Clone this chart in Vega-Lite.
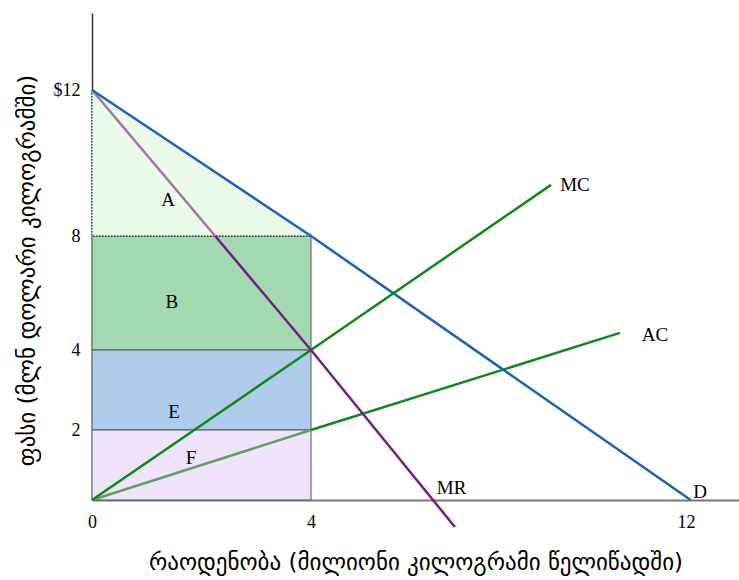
{
  "$schema": "https://vega.github.io/schema/vega-lite/v6.json",
  "width": 647,
  "height": 487,
  "autosize": {"type": "none"},
  "padding": {"left": 92, "top": 13, "right": 0, "bottom": 80},
  "background": "white",
  "config": {"view": {"stroke": null}, "font": "Liberation Serif"},
  "resolve": {"scale": {"color": "independent"}},
  "datasets": {
    "regions": [
      {"region": "B", "q0": 0, "q1": 4, "p0": 4, "p1": 8},
      {"region": "E", "q0": 0, "q1": 4, "p0": 2, "p1": 4},
      {"region": "F", "q0": 0, "q1": 4, "p0": 0, "p1": 2}
    ],
    "triangle": [
      {"q": 0, "top": 12, "bottom": 8},
      {"q": 4, "top": 8, "bottom": 8}
    ],
    "dotted": [
      {"q": 0, "p": 12, "o": 1},
      {"q": 0, "p": 8, "o": 2},
      {"q": 4, "p": 8, "o": 3}
    ],
    "curves": [
      {"seg": "AC lower", "q": 0, "p": 0, "o": 1},
      {"seg": "AC lower", "q": 4, "p": 2, "o": 2},
      {"seg": "AC", "q": 4, "p": 2, "o": 1},
      {"seg": "AC", "q": 10.59, "p": 4.6, "o": 2},
      {"seg": "MC", "q": 0, "p": 0, "o": 1},
      {"seg": "MC", "q": 4, "p": 4, "o": 2},
      {"seg": "MC", "q": 9.12, "p": 9.4, "o": 3},
      {"seg": "MR upper", "q": 0, "p": 12, "o": 1},
      {"seg": "MR upper", "q": 2.25, "p": 8, "o": 2},
      {"seg": "MR", "q": 2.25, "p": 8, "o": 1},
      {"seg": "MR", "q": 4, "p": 4, "o": 2},
      {"seg": "MR", "q": 7.07, "p": -0.77, "o": 3},
      {"seg": "D", "q": 0, "p": 12, "o": 1},
      {"seg": "D", "q": 4, "p": 8, "o": 2},
      {"seg": "D", "q": 12.1, "p": 0, "o": 3}
    ],
    "labels": [
      {"text": "A", "q": 1.39, "p": 8.99},
      {"text": "B", "q": 1.46, "p": 5.68},
      {"text": "E", "q": 1.5, "p": 2.45},
      {"text": "F", "q": 1.81, "p": 1.2},
      {"text": "MC", "q": 9.63, "p": 9.4},
      {"text": "AC", "q": 11.34, "p": 4.53},
      {"text": "MR", "q": 7.0, "p": 0.34},
      {"text": "D", "q": 12.3, "p": 0.23}
    ]
  },
  "layer": [
    {
      "data": {"name": "regions"},
      "mark": {"type": "rect", "stroke": "#555555", "strokeWidth": 1},
      "encoding": {
        "x": {
          "field": "q0", "type": "quantitative",
          "scale": {"domain": [0, 4, 12, 13.13], "range": [0, 219, 594, 647], "nice": false, "zero": false},
          "axis": {
            "values": [0, 4, 12], "grid": false, "ticks": false, "labelPadding": 13, "labelFlush": false,
            "labelFontSize": 18, "labelFont": "Liberation Serif", "labelColor": "#000",
            "domainColor": "#777777", "domainWidth": 2,
            "title": "რაოდენობა (მილიონი კილოგრამი წელიწადში)",
            "titleFont": "DejaVu Sans", "titleFontSize": 23, "titleFontWeight": "normal",
            "titleColor": "#000", "titlePadding": 20
          }
        },
        "x2": {"field": "q1"},
        "y": {
          "field": "p0", "type": "quantitative",
          "scale": {"domain": [0, 2, 4, 8, 12, 14.1], "range": [487, 417, 337, 223, 77, 0], "nice": false, "zero": false},
          "axis": {
            "values": [2, 4, 8, 12], "grid": false, "ticks": false, "labelPadding": 12, "labelFlush": false,
            "labelExpr": "datum.value == 12 ? '$12' : datum.label",
            "labelFontSize": 18, "labelFont": "Liberation Serif", "labelColor": "#000",
            "domainColor": "#333333", "domainWidth": 1.5,
            "title": "ფასი (მლნ დოლარი კილოგრამში)",
            "titleFont": "DejaVu Sans", "titleFontSize": 23, "titleFontWeight": "normal",
            "titleColor": "#000", "titlePadding": 14, "titleY": 257
          }
        },
        "y2": {"field": "p1"},
        "color": {
          "field": "region", "type": "nominal", "legend": null,
          "scale": {"domain": ["B", "E", "F"], "range": ["#a3d9b1", "#aecbeb", "#efe3fb"]}
        }
      }
    },
    {
      "data": {"name": "triangle"},
      "mark": {"type": "area", "color": "#eafbea"},
      "encoding": {
        "x": {"field": "q", "type": "quantitative"},
        "y": {"field": "top", "type": "quantitative"},
        "y2": {"field": "bottom"}
      }
    },
    {
      "data": {"name": "dotted"},
      "mark": {"type": "line", "color": "#444444", "strokeWidth": 1.5, "strokeDash": [1.5, 1.5]},
      "encoding": {
        "x": {"field": "q", "type": "quantitative"},
        "y": {"field": "p", "type": "quantitative"},
        "order": {"field": "o"}
      }
    },
    {
      "data": {"name": "curves"},
      "mark": {"type": "line", "strokeWidth": 2.5},
      "encoding": {
        "x": {"field": "q", "type": "quantitative"},
        "y": {"field": "p", "type": "quantitative"},
        "order": {"field": "o"},
        "detail": {"field": "seg", "type": "nominal"},
        "stroke": {
          "field": "seg", "type": "nominal", "legend": null,
          "scale": {
            "domain": ["AC lower", "AC", "MC", "MR upper", "MR", "D"],
            "range": ["#5f9f5f", "#11881b", "#0c8a14", "#a274a2", "#7a1b7e", "#1c63b8"]
          }
        }
      }
    },
    {
      "data": {"name": "labels"},
      "mark": {"type": "text", "font": "Liberation Serif", "fontSize": 19, "color": "#000", "align": "center", "baseline": "middle"},
      "encoding": {
        "x": {"field": "q", "type": "quantitative"},
        "y": {"field": "p", "type": "quantitative"},
        "text": {"field": "text"}
      }
    }
  ]
}
